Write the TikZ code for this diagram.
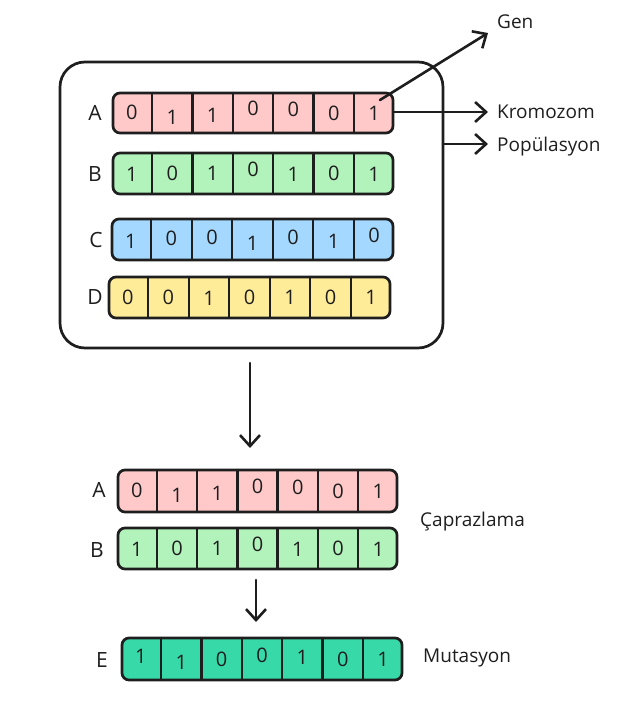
\documentclass[tikz,border=0pt]{standalone}
\usepackage{fontspec}
\setmainfont{Open Sans}
\usetikzlibrary{arrows.meta,calc}
\definecolor{ink}{HTML}{1E1E1E}
\definecolor{cpink}{HTML}{FFC9C9}
\definecolor{cgreen}{HTML}{B2F2BB}
\definecolor{cblue}{HTML}{A5D8FF}
\definecolor{cyellow}{HTML}{FFEC99}
\definecolor{cteal}{HTML}{38D9A9}
\tikzset{
  chrom/.style={draw=ink, line width=2.7pt, rounded corners=7pt, rectangle, inner sep=0pt},
  divline/.style={draw=ink, line width=2.4pt},
  digit/.style={text=ink, font=\fontsize{20}{24}\selectfont, inner sep=0pt},
  letter/.style={text=ink, font=\fontsize{21}{24}\selectfont, inner sep=0pt},
  lbl/.style={text=ink, font=\fontsize{19}{22}\selectfont, inner sep=0pt, anchor=west},
  arr/.style={draw=ink, line width=2.6pt, line cap=round, -{Straight Barb[length=11pt,width=20pt,line width=2.6pt]}},
  outerbox/.style={draw=ink, line width=2.7pt, rounded corners=25pt, rectangle, inner sep=0pt}
}
\newcommand\chromo[7]{%
  \node[chrom, fill=#6, minimum width={(#4-#2)*1pt}, minimum height={(#5-#3)*1pt}] (#1) at ({(#2+#4)/2},{(#3+#5)/2}) {};
  \foreach \k in {1,...,6} {
    \draw[divline] ($(#1.north west)!\k/7!(#1.north east)$) -- ($(#1.south west)!\k/7!(#1.south east)$);
  }
  \foreach \d/\o [count=\i] in {#7} {
    \node[digit] (#1d\i) at ($($(#1.west)!{(\i-0.5)/7}!(#1.east)$)+(0,\o)$) {\d};
  }
}
\begin{document}
\begin{tikzpicture}[x=1pt,y=-1pt]
\useasboundingbox (0,0) rectangle (626,707);
% population box
\node[outerbox, minimum width=383pt, minimum height=286pt] (pop) at (251.5,205) {};
% top chromosomes
\chromo{cA}{113}{93}{393}{133}{cpink}{0/-1,1/4,1/2,0/-5,0/-4,0/0,1/0}
\chromo{cB}{113}{153}{393}{194}{cgreen}{1/1,0/0,1/0,0/-4,1/1,0/0,1/1}
\chromo{cC}{112}{219}{393}{260}{cblue}{1/2,0/-1,0/-2,1/4,0/-2,1/2,0/-4}
\chromo{cD}{109}{277}{390}{318}{cyellow}{0/0,0/0,1/1,0/0,1/0,0/0,1/0}
\node[letter] (lA) at (95,113) {A};
\node[letter] (lB) at (95,174) {B};
\node[letter] (lC) at (96,240) {C};
\node[letter] (lD) at (95,297) {D};
% right labels
\node[lbl] (tGen) at (497,22) {Gen};
\node[lbl] (tKrom) at (497,112) {Kromozom};
\node[lbl] (tPop) at (497,147) {Popülasyon};
\coordinate (gS) at (380,100);
\coordinate (gE) at (488,33);
\draw[arr] (gS) -- (gE);
\coordinate (kE) at (488,112);
\draw[arr] (cA.east |- 0,112) -- (kE);
\coordinate (pS) at (443,144);
\coordinate (pE) at (488,144);
\draw[arr] (pS) -- (pE);
% down arrow
\coordinate (d1S) at (250,363);
\coordinate (d1E) at (250,448);
\draw[arr] (d1S) -- (d1E);
% crossover
\chromo{bA}{118}{470}{397}{512}{cpink}{0/-1,1/4,1/2,0/-5,0/-4,0/0,1/0}
\chromo{bB}{118}{528}{397}{569}{cgreen}{1/1,0/0,1/0,0/-4,1/1,0/0,1/1}
\node[letter] (lbA) at (99,490) {A};
\node[letter] (lbB) at (97,550) {B};
\node[lbl] (tCap) at (420,522) {Çaprazlama};
\coordinate (d2S) at (256,580);
\coordinate (d2E) at (256,622);
\draw[arr] (d2S) -- (d2E);
% mutation
\chromo{cE}{122}{638}{402}{680}{cteal}{1/-3,1/3,0/0,0/-4,1/-2,0/0,1/0}
\node[letter] (lE) at (102,660) {E};
\node[lbl] (tMut) at (423,658) {Mutasyon};
\end{tikzpicture}
\end{document}
